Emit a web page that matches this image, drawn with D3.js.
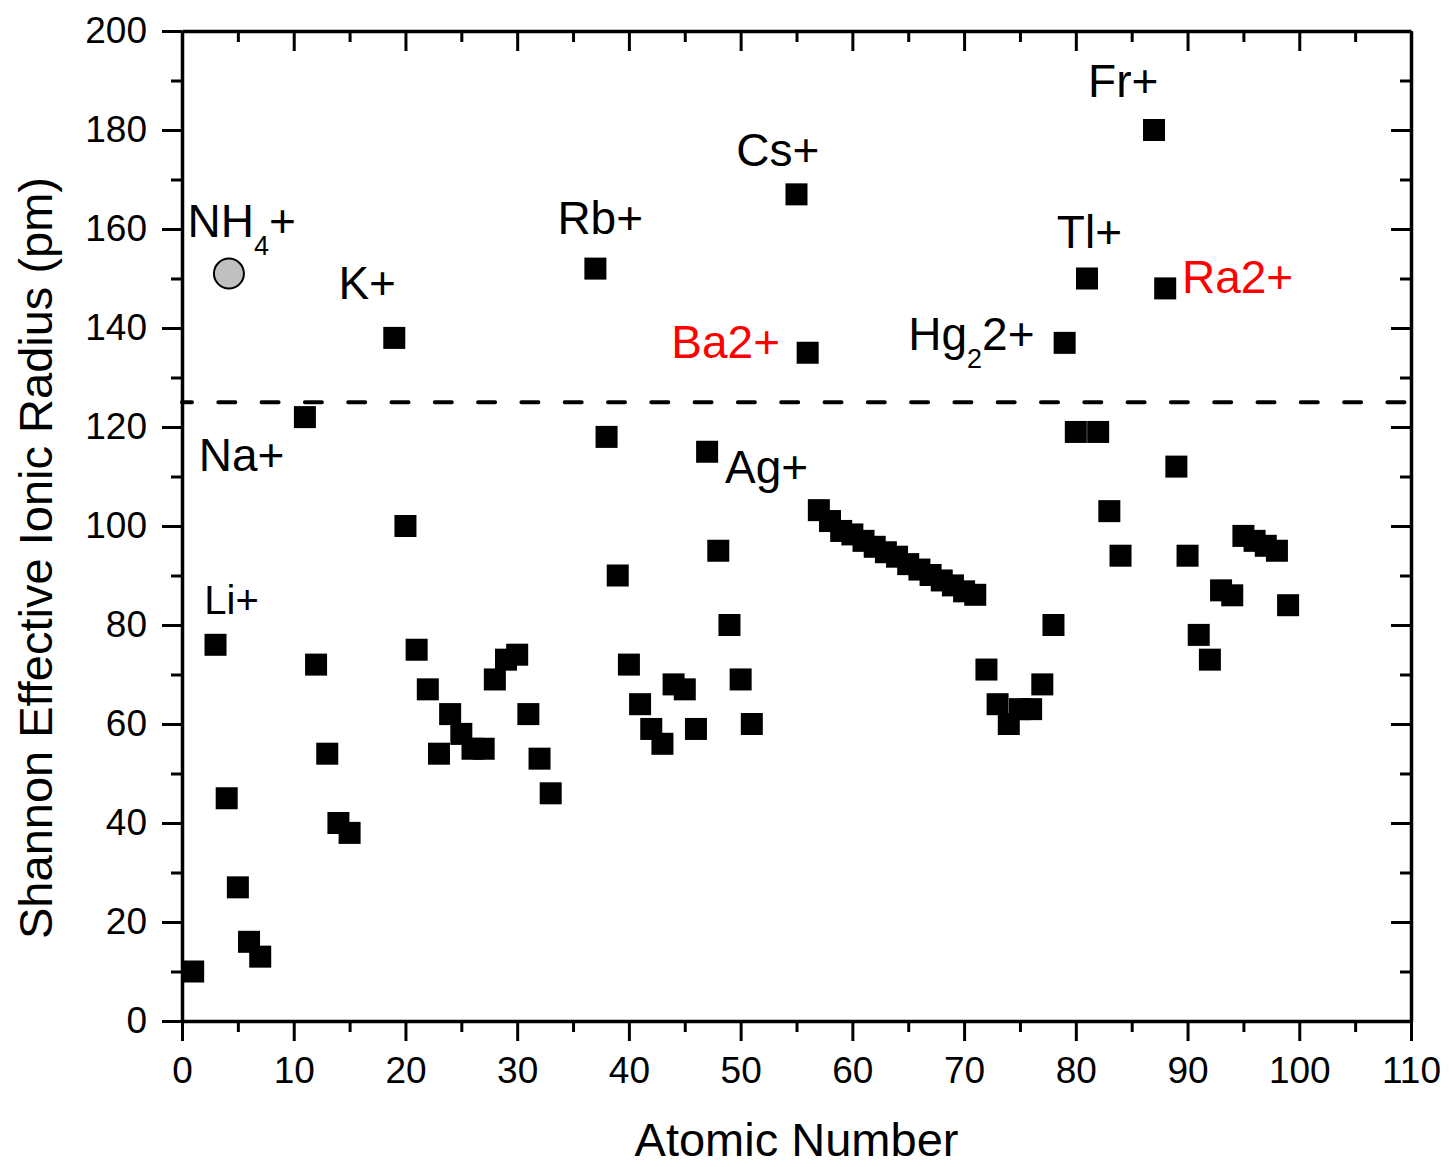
<!DOCTYPE html>
<html>
<head>
<meta charset="utf-8">
<script src="https://cdn.jsdelivr.net/npm/d3@7"></script>
<style>
  body { margin: 0; background: #fff; }
  text { font-family: "Liberation Sans", Arial, sans-serif; }
</style>
</head>
<body>
<div id="chart"></div>
<script>
// cations: atomic number vs. Shannon effective ionic radius (pm)
var atomicNumber = [1, 3, 4, 5, 6, 7, 11, 12, 13, 14, 15, 19, 20, 21, 22, 23, 24, 25, 26, 27,
  28, 29, 30, 31, 32, 33, 37, 38, 39, 40, 41, 42, 43, 44, 45, 46, 47, 48, 49, 50, 51,
  55, 56, 57, 58, 59, 60, 61, 62, 63, 64, 65, 66, 67, 68, 69, 70, 71, 72, 73, 74, 75,
  76, 77, 78, 79, 80, 81, 82, 83, 84, 87, 88, 89, 90, 91, 92, 93, 94, 95, 96, 97, 98, 99];
var ionicRadius = [10, 76, 45, 27, 16, 13, 122, 72, 54, 40, 38, 138, 100, 75, 67, 54, 62, 58, 55, 55,
  69, 73, 74, 62, 53, 46, 152, 118, 90, 72, 64, 59, 56, 68, 67, 59, 115, 95, 80, 69, 60,
  167, 135, 103.2, 101, 99, 98.3, 97, 95.8, 94.7, 93.8, 92.3, 91.2, 90.1, 89, 88, 86.8, 86.1, 71, 64, 60, 63,
  63, 68, 80, 137, 119, 150, 119, 103, 94, 180, 148, 112, 94, 78, 73, 87, 86, 98, 97, 96, 95, 84];

// ammonium is not an element, plotted as a grey circle
var ammoniumZ = [4.2];
var ammoniumRadius = [151];

var cutoffRadius = 125;

var xTickValues = [0, 10, 20, 30, 40, 50, 60, 70, 80, 90, 100, 110];
var yTickValues = [0, 20, 40, 60, 80, 100, 120, 140, 160, 180, 200];

// label text, anchor in data units (atomic number, radius)
var labels = [
  { parts: [["NH", 0], ["4", 1], ["+", 0]], z: 0.5, r: 158.3, color: "#000" },
  { parts: [["K+", 0]], z: 14.0, r: 145.9, color: "#000" },
  { parts: [["Na+", 0]], z: 1.5, r: 111.1, color: "#000" },
  { parts: [["Li+", 0]], z: 2.0, r: 82.2, color: "#000", small: true },
  { parts: [["Rb+", 0]], z: 33.6, r: 159.0, color: "#000" },
  { parts: [["Cs+", 0]], z: 49.6, r: 172.7, color: "#000" },
  { parts: [["Ba2+", 0]], z: 43.8, r: 133.9, color: "#ff0000" },
  { parts: [["Ag+", 0]], z: 48.6, r: 108.7, color: "#000" },
  { parts: [["Hg", 0], ["2", 1], ["2+", 0]], z: 65.0, r: 135.6, color: "#000" },
  { parts: [["Tl+", 0]], z: 78.3, r: 156.2, color: "#000" },
  { parts: [["Fr+", 0]], z: 81.1, r: 186.7, color: "#000" },
  { parts: [["Ra2+", 0]], z: 89.5, r: 147.1, color: "#ff0000" }
];

var width = 1449,
    height = 1167;
var margin = { top: 31, right: 38, bottom: 146, left: 182 };

var x = d3.scaleLinear()
  .domain([0, 110])
  .range([margin.left, width - margin.right]);
var y = d3.scaleLinear()
  .domain([0, 200])
  .range([height - margin.bottom, margin.top]);

var svg = d3.select("#chart")
  .append("svg")
    .attr("width", width)
    .attr("height", height)
    .style("background", "#fff");

var entries = atomicNumber.map(function(z, i) { return { z: z, r: ionicRadius[i] }; });

// dashed reference line
svg.append("line")
  .attr("x1", x(0))
  .attr("x2", x(110))
  .attr("y1", y(cutoffRadius))
  .attr("y2", y(cutoffRadius))
  .attr("stroke", "#000")
  .attr("stroke-width", 4)
  .attr("stroke-linecap", "round")
  .attr("stroke-dasharray", "17,26.3")
  .attr("stroke-dashoffset", 7);

var squareSize = 22;
svg.append("g")
  .selectAll("rect")
  .data(entries)
  .enter()
    .append("rect")
    .attr("x", function(d) { return x(d.z) - squareSize / 2; })
    .attr("y", function(d) { return y(d.r) - squareSize / 2; })
    .attr("width", squareSize)
    .attr("height", squareSize)
    .attr("fill", "#000");

svg.append("g")
  .selectAll("circle")
  .data(ammoniumZ)
  .enter()
    .append("circle")
    .attr("cx", function(d) { return x(d); })
    .attr("cy", function(d, i) { return y(ammoniumRadius[i]); })
    .attr("r", 15)
    .attr("fill", "#c0c0c0")
    .attr("stroke", "#000")
    .attr("stroke-width", 2);

// labels
var labelGroup = svg.append("g");
labels.forEach(function(l) {
  var t = labelGroup.append("text")
    .attr("x", x(l.z))
    .attr("y", y(l.r))
    .attr("fill", l.color)
    .attr("font-size", l.small ? "40px" : "46px");
  var shift = 0;
  l.parts.forEach(function(p) {
    var isSub = p[1] === 1;
    var dy = isSub ? 18 : -shift;
    t.append("tspan")
      .attr("dy", dy)
      .attr("font-size", isSub ? "27px" : null)
      .text(p[0]);
    shift = isSub ? 18 : 0;
  });
});

// axes
function styleAxis(g, labelSize) {
  g.select(".domain").attr("stroke-width", 3.5);
  g.selectAll(".tick line").attr("stroke-width", 3);
  g.selectAll(".tick text")
    .attr("font-size", labelSize)
    .attr("font-family", "'Liberation Sans', Arial, sans-serif")
    .attr("fill", "#000");
}

function minorTicks(g) {
  g.select(".domain").remove();
  g.selectAll(".tick line").attr("stroke-width", 3);
}

var xMinor = d3.range(5, 110, 10);
var yMinor = d3.range(10, 200, 20);
var bottom = height - margin.bottom;
var right = width - margin.right;

svg.append("g")
  .attr("transform", "translate(0," + bottom + ")")
  .call(d3.axisBottom(x).tickValues(xMinor).tickSize(11).tickFormat(""))
  .call(minorTicks);
svg.append("g")
  .attr("transform", "translate(0," + margin.top + ")")
  .call(d3.axisTop(x).tickValues(xMinor).tickSize(-11).tickFormat(""))
  .call(minorTicks);
svg.append("g")
  .attr("transform", "translate(" + margin.left + ",0)")
  .call(d3.axisLeft(y).tickValues(yMinor).tickSize(11).tickFormat(""))
  .call(minorTicks);
svg.append("g")
  .attr("transform", "translate(" + right + ",0)")
  .call(d3.axisRight(y).tickValues(yMinor).tickSize(-11).tickFormat(""))
  .call(minorTicks);

svg.append("g")
  .attr("transform", "translate(0," + bottom + ")")
  .call(d3.axisBottom(x).tickValues(xTickValues).tickSize(20).tickSizeOuter(0).tickPadding(16))
  .call(function(g) { styleAxis(g, "37px"); });
svg.append("g")
  .attr("transform", "translate(0," + margin.top + ")")
  .call(d3.axisTop(x).tickValues(xTickValues).tickSize(-20).tickSizeOuter(0).tickFormat(""))
  .call(function(g) { styleAxis(g, "37px"); });
svg.append("g")
  .attr("transform", "translate(" + margin.left + ",0)")
  .call(d3.axisLeft(y).tickValues(yTickValues).tickSize(20).tickSizeOuter(0).tickPadding(15))
  .call(function(g) { styleAxis(g, "37px"); });
svg.append("g")
  .attr("transform", "translate(" + right + ",0)")
  .call(d3.axisRight(y).tickValues(yTickValues).tickSize(-20).tickSizeOuter(0).tickFormat(""))
  .call(function(g) { styleAxis(g, "37px"); });

// axis titles
svg.append("text")
  .attr("x", (margin.left + right) / 2)
  .attr("y", 1156)
  .attr("text-anchor", "middle")
  .attr("font-size", "47px")
  .text("Atomic Number");

svg.append("text")
  .attr("transform", "translate(52,558) rotate(-90)")
  .attr("text-anchor", "middle")
  .attr("font-size", "47px")
  .text("Shannon Effective Ionic Radius (pm)");
</script>
</body>
</html>
